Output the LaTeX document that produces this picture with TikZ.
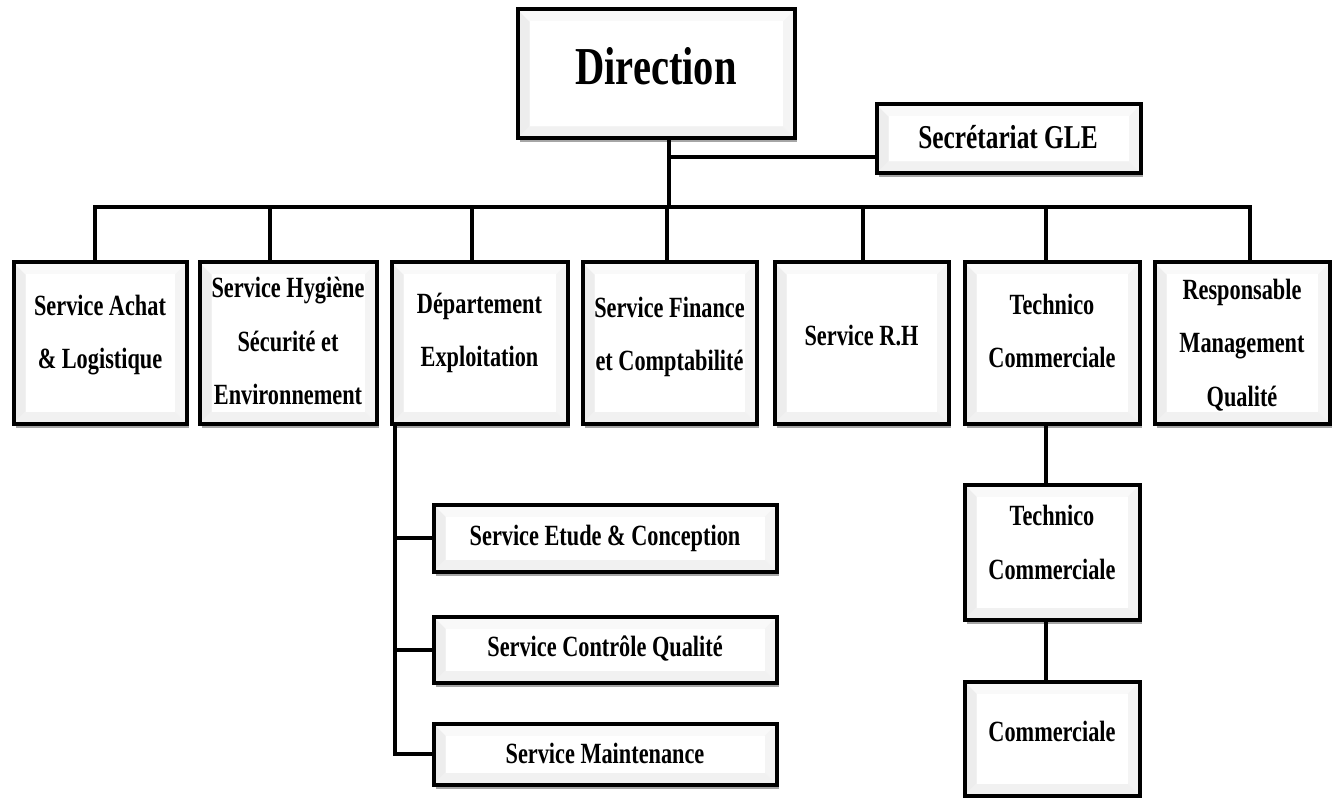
\documentclass[tikz,border=0pt]{standalone}
\usepackage{fontspec}
\setmainfont{Liberation Serif}[FakeStretch=0.76]
\usetikzlibrary{shadows}

\newcommand\bevelfaces{%
  \path (path picture bounding box.south west) coordinate (pSW)
        (path picture bounding box.north west) coordinate (pNW)
        (path picture bounding box.north east) coordinate (pNE)
        (path picture bounding box.south east) coordinate (pSE);
  \fill[gray!3] (pSW) rectangle (pNE);
  \fill[gray!14] (pSW) -- (pNW) -- ([shift={(9pt,-9pt)}]pNW) -- ([shift={(9pt,9pt)}]pSW) -- cycle;
  \fill[gray!9] (pSE) -- (pNE) -- ([shift={(-9pt,-9pt)}]pNE) -- ([shift={(-9pt,9pt)}]pSE) -- cycle;
  \fill[gray!5] (pNW) -- (pNE) -- ([shift={(-9pt,-9pt)}]pNE) -- ([shift={(9pt,-9pt)}]pNW) -- cycle;
  \fill[gray!11] (pSW) -- (pSE) -- ([shift={(-9pt,9pt)}]pSE) -- ([shift={(9pt,9pt)}]pSW) -- cycle;
  \fill[white] ([shift={(9pt,9pt)}]pSW) rectangle ([shift={(-9pt,-9pt)}]pNE);
}

\tikzset{
  bevelled/.style={
    draw=black, line width=3pt, fill=white, inner sep=0pt,
    drop shadow={shadow xshift=1.5pt, shadow yshift=-3pt, opacity=0.35, fill=black},
    path picture={\bevelfaces}
  },
  orgbox/.style 2 args={bevelled, minimum width=#1*0.75pt, minimum height=#2*0.75pt},
  lbl/.style={font=\bfseries\fontsize{22}{40}\selectfont, align=center, inner sep=0pt},
  link/.style={draw=black, line width=3pt, line cap=rect, line join=miter}
}

\begin{document}
\begin{tikzpicture}[x=0.75pt, y=-0.75pt]
\useasboundingbox[fill=white] (0,0) rectangle (1337,798);

% ---- top level
\node[orgbox={277}{129}] (dir) at (656,74) {};
\node[lbl, font=\bfseries\fontsize{40}{48}\selectfont] (dirT) at (656,66) {Direction};

\node[orgbox={264}{69}] (sec) at (1008.5,139) {};
\node[lbl, font=\bfseries\fontsize{25}{30}\selectfont] (secT) at (1008,137) {Secrétariat GLE};

% ---- first row of services
\node[orgbox={173}{161}] (achat) at (100,343) {};
\node[orgbox={177}{161}] (hse)   at (288,343) {};
\node[orgbox={176}{161}] (dept)  at (479.5,343) {};
\node[orgbox={174}{161}] (fin)   at (669.5,343) {};
\node[orgbox={174}{161}] (rh)    at (861.5,343) {};
\node[orgbox={175}{161}] (tc)    at (1052,343) {};
\node[orgbox={175}{161}] (rmq)   at (1242,343) {};

\node[lbl] (achatT) at (100,335) {Service Achat\\\& Logistique};
\node[lbl] (hseT)   at (288,341) {Service Hygiène\\Sécurité et\\Environnement};
\node[lbl] (deptT)  at (479.5,333) {Département\\Exploitation};
\node[lbl] (finT)   at (669.5,337) {Service Finance\\et Comptabilité};
\node[lbl] (rhT)    at (861.5,336) {Service R.H};
\node[lbl] (tcT)    at (1052,331) {Technico\\Commerciale};
\node[lbl] (rmqT)   at (1242,345) {Responsable\\Management\\Qualité};

% ---- services under the operations department
\node[orgbox={343}{67}] (etude) at (605,538) {};
\node[orgbox={343}{66}] (ctrl)  at (605,649.5) {};
\node[orgbox={343}{61}] (maint) at (605,754) {};
\node[lbl] (etudeT) at (605,538) {Service Etude \& Conception};
\node[lbl] (ctrlT)  at (605,649) {Service Contrôle Qualité};
\node[lbl] (maintT) at (605,753) {Service Maintenance};

% ---- sales branch
\node[orgbox={175}{135}] (tc2) at (1052,552) {};
\node[orgbox={175}{114}] (com) at (1052,738.5) {};
\node[lbl] (tc2T) at (1052,542.5) {Technico\\Commerciale};
\node[lbl] (comT) at (1052,731) {Commerciale};

% ---- connectors
\coordinate (trunk) at (669,207);
\coordinate (secj)  at (669,157);
\coordinate (busL)  at (95,207);
\coordinate (busR)  at (1250,207);
\coordinate (h2) at (270,207);
\coordinate (h3) at (472,207);
\coordinate (h4) at (667,207);
\coordinate (h5) at (863,207);
\coordinate (h6) at (1046,207);
\coordinate (dv) at (395,430);
\coordinate (tv) at (1046,430);

\draw[link] (dir.south -| trunk) -- (trunk);
\draw[link] (secj) -- (sec.west |- secj);
\draw[link] (achat.north -| busL) -- (busL) -- (busR) -- (rmq.north -| busR);
\draw[link] (h2) -- (hse.north -| h2);
\draw[link] (h3) -- (dept.north -| h3);
\draw[link] (h4) -- (fin.north -| h4);
\draw[link] (h5) -- (rh.north -| h5);
\draw[link] (h6) -- (tc.north -| h6);

\draw[link] (dept.south -| dv) |- (maint.west);
\draw[link] (etude.west -| dv) -- (etude.west);
\draw[link] (ctrl.west -| dv) -- (ctrl.west);

\draw[link] (tc.south -| tv) -- (tc2.north -| tv);
\draw[link] (tc2.south -| tv) -- (com.north -| tv);
\end{tikzpicture}
\end{document}
